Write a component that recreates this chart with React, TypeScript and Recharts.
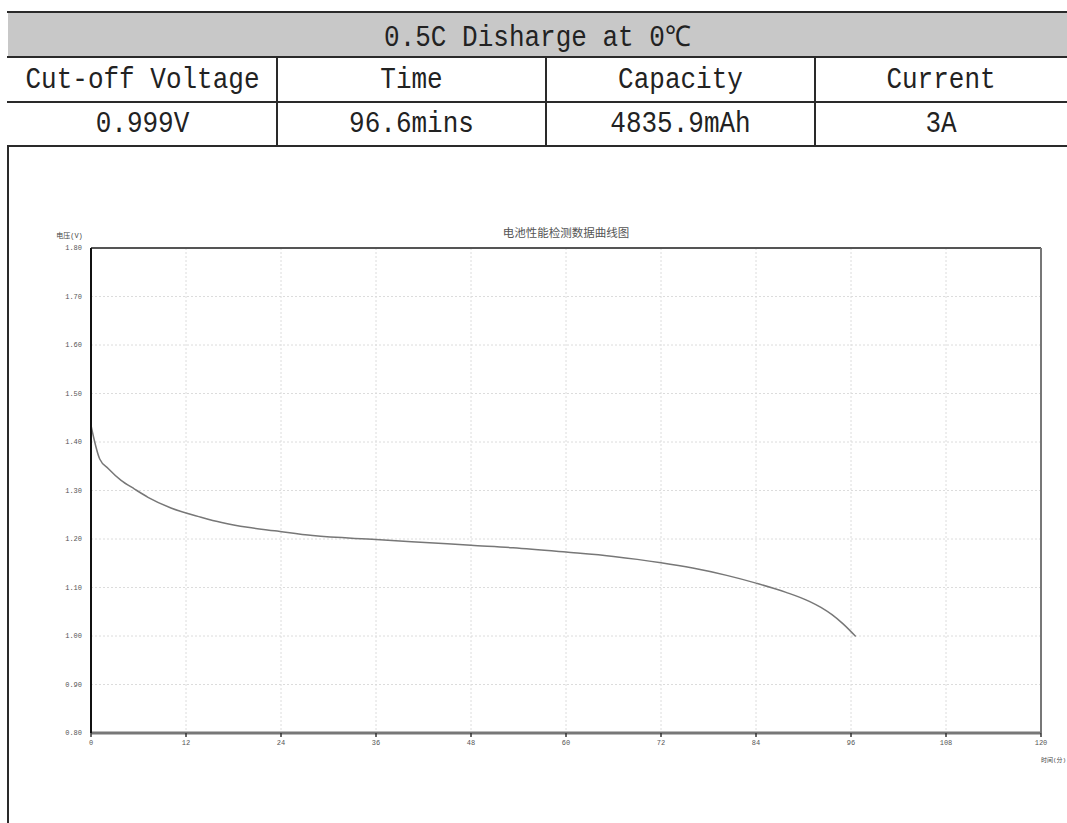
import {
  LineChart,
  Line,
  XAxis,
  YAxis,
  CartesianGrid,
  ReferenceLine,
} from "recharts";

// discharge curve
const times: number[] = [
  0, 1.1, 2.2, 3.8, 5.5, 7.2, 10.1, 13.9, 16.5, 19.8, 23.2, 28, 36, 45, 48,
  53.3, 60, 66, 69, 72, 76, 80.3, 84, 87.8, 90.8, 92.2, 93.6, 95, 96.6,
];
const volts: number[] = [
  1.434, 1.365, 1.345, 1.321, 1.303, 1.286, 1.264, 1.245, 1.234, 1.224, 1.217,
  1.207, 1.199, 1.19, 1.187, 1.182, 1.173, 1.164, 1.158, 1.151, 1.14, 1.125,
  1.109, 1.09, 1.071, 1.059, 1.044, 1.025, 0.999,
];

const xTicks = [0, 12, 24, 36, 48, 60, 72, 84, 96, 108, 120];
const yTicks = [0.8, 0.9, 1.0, 1.1, 1.2, 1.3, 1.4, 1.5, 1.6, 1.7, 1.8];

const headerText = "0.5C Disharge at 0℃";
const columns = ["Cut-off Voltage", "Time", "Capacity", "Current"];
const values = ["0.999V", "96.6mins", "4835.9mAh", "3A"];

const chartTitle = "电池性能检测数据曲线图";
const yLabel = "电压(V)";
const xLabel = "时间(分)";

const data = times.map((t, i) => ({ t, v: volts[i] }));

const colEdges = [8, 277, 546, 815, 1067];
const lineColor = "#2a2a2a";
const cellFont = "'Liberation Mono', 'DejaVu Sans Mono', monospace";
const smallFont = "'Liberation Mono', 'Noto Sans CJK SC', monospace";

function Cell({ x1, x2, y, h, text }: { x1: number; x2: number; y: number; h: number; text: string }) {
  return (
    <div
      style={{
        position: "absolute",
        left: x1,
        top: y,
        width: x2 - x1,
        height: h,
        display: "flex",
        alignItems: "center",
        justifyContent: "center",
        fontFamily: cellFont,
        fontSize: 26,
        color: "#222",
        transform: "scaleY(1.1)",
      }}
    >
      {text}
    </div>
  );
}

export default function App() {
  return (
    <div
      style={{
        position: "absolute",
        left: 0,
        top: 0,
        width: 1067,
        height: 823,
        background: "#fff",
        overflow: "hidden",
      }}
    >
      {/* table */}
      <div style={{ position: "absolute", left: 8, top: 12, width: 1059, height: 45, background: "#c8c8c8" }} />
      <Cell x1={8} x2={1067} y={12} h={45} text={headerText} />
      {columns.map((c, i) => (
        <Cell key={c} x1={colEdges[i]} x2={colEdges[i + 1]} y={57} h={45} text={c} />
      ))}
      {values.map((c, i) => (
        <Cell key={c} x1={colEdges[i]} x2={colEdges[i + 1]} y={102} h={44} text={c} />
      ))}
      {[12, 57, 102, 146].map((y) => (
        <div key={y} style={{ position: "absolute", left: 7, top: y - 1, width: 1060, height: 2, background: lineColor }} />
      ))}
      {colEdges.slice(1, 4).map((x) => (
        <div key={x} style={{ position: "absolute", left: x - 1, top: 57, width: 2, height: 89, background: lineColor }} />
      ))}

      {/* chart */}
      <div style={{ position: "absolute", left: 0, top: 146 }}>
        <LineChart
          width={1067}
          height={677}
          data={data}
          margin={{ top: 102, right: 26, bottom: 60, left: 0 }}
          style={{ fontFamily: smallFont }}
        >
          <CartesianGrid stroke="#dcdcdc" strokeDasharray="2 2" />
          <XAxis
            type="number"
            dataKey="t"
            domain={[0, 120]}
            ticks={xTicks}
            height={30}
            tickSize={4}
            tickMargin={3}
            axisLine={{ stroke: "#777", strokeWidth: 3 }}
            tickLine={{ stroke: "#333", strokeWidth: 1.5 }}
            tick={{ fontSize: 7, fill: "#555" }}
            label={{ value: xLabel, position: "right", offset: 0, dy: 12, fontSize: 6, fill: "#444" }}
          />
          <YAxis
            type="number"
            domain={[0.8, 1.8]}
            ticks={yTicks}
            width={91}
            tickSize={0}
            tickMargin={9}
            axisLine={{ stroke: "#111", strokeWidth: 2 }}
            tick={{ fontSize: 7, fill: "#555" }}
            tickFormatter={(v: number) => v.toFixed(2)}
            label={{ value: yLabel, position: "top", dx: 24, offset: 10, fontSize: 7, fill: "#444" }}
          />
          <ReferenceLine
            y={1.8}
            stroke="#555"
            strokeWidth={2}
            label={{ value: chartTitle, position: "top", offset: 11, fontSize: 11.5, fill: "#555" }}
          />
          <ReferenceLine x={120} stroke="#777" strokeWidth={2} />
          <Line
            type="monotone"
            dataKey="v"
            stroke="#777"
            strokeWidth={1.5}
            dot={false}
            isAnimationActive={false}
          />
        </LineChart>
      </div>
      <div style={{ position: "absolute", left: 7, top: 146, width: 2, height: 677, background: lineColor }} />
    </div>
  );
}
